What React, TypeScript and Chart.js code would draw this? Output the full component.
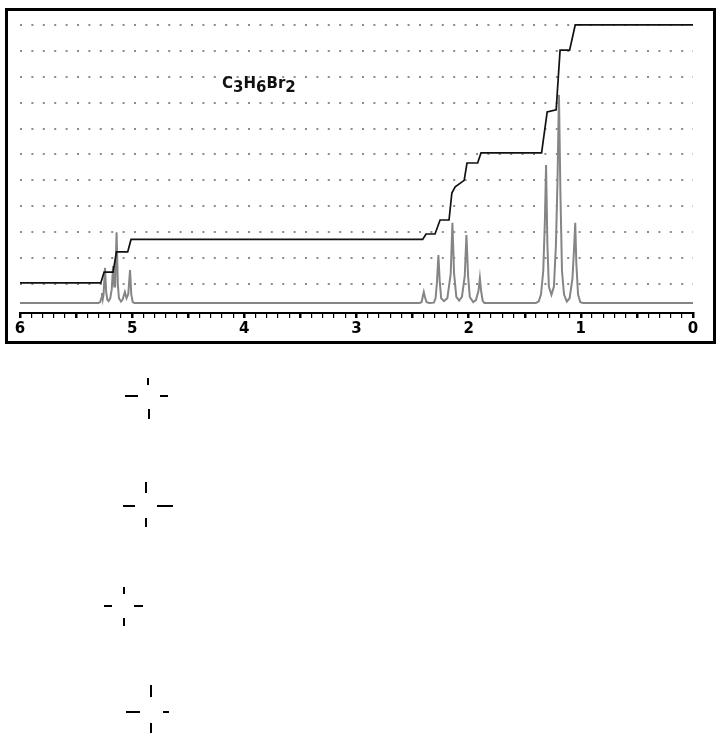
import React, { useEffect, useRef } from 'react';
import { Chart, registerables } from 'chart.js';

Chart.register(...registerables);

// chemical shift (ppm) of the spectrum trace and its intensity (grid units)
const spectrumPpm = [
  6.0, 5.3, 5.285, 5.275, 5.269, 5.262, 5.255, 5.242, 5.232, 5.222, 5.21, 5.195, 5.182, 5.17, 5.16, 5.152, 5.139, 5.128, 5.118,
  5.1, 5.085, 5.065, 5.05, 5.035, 5.019, 5.008, 4.995, 4.98,
  2.44, 2.42, 2.41, 2.4, 2.39, 2.375, 2.35, 2.31, 2.295, 2.282, 2.27, 2.258, 2.245, 2.22, 2.19, 2.16, 2.145, 2.13, 2.11, 2.085,
  2.06, 2.035, 2.02, 2.005, 1.99, 1.96, 1.935, 1.912, 1.9, 1.888, 1.875, 1.86,
  1.4, 1.375, 1.355, 1.335, 1.32, 1.31, 1.298, 1.285, 1.262, 1.24, 1.222, 1.208, 1.195, 1.182, 1.168, 1.15, 1.125, 1.1, 1.075,
  1.06, 1.05, 1.04, 1.025, 1.005, 0.98, 0.0,
];
const spectrumInt = [
  0.27, 0.27, 0.3, 0.45, 0.65, 0.42, 0.6, 1.62, 0.7, 0.4, 0.34, 0.45, 0.8, 1.69, 0.9, 0.9, 3.0, 1.0, 0.45,
  0.32, 0.4, 0.69, 0.45, 0.6, 1.54, 0.6, 0.3, 0.27,
  0.27, 0.3, 0.5, 0.69, 0.5, 0.3, 0.27, 0.28, 0.45, 1.1, 2.12, 1.1, 0.45, 0.34, 0.45, 1.4, 3.36, 1.4, 0.5, 0.36,
  0.5, 1.3, 2.89, 1.3, 0.5, 0.3, 0.38, 0.75, 1.23, 0.7, 0.35, 0.27,
  0.27, 0.33, 0.6, 1.5, 3.5, 5.59, 2.5, 0.9, 0.58, 0.9, 2.5, 5.0, 8.3, 4.5, 1.5, 0.6, 0.32, 0.45, 1.2,
  2.4, 3.36, 1.8, 0.6, 0.3, 0.27, 0.27,
];

// integral trace
const integralPpm = [
  6.0, 5.28, 5.25, 5.17, 5.14, 5.04, 5.01, 2.41, 2.38, 2.3, 2.255, 2.175, 2.15, 2.12, 2.04, 2.015, 1.92, 1.89, 1.35, 1.3, 1.22,
  1.185, 1.1, 1.05, 0.0,
];
const integralVal = [
  1.04, 1.04, 1.46, 1.46, 2.24, 2.24, 2.72, 2.72, 2.93, 2.93, 3.47, 3.47, 4.51, 4.75, 5.0, 5.67, 5.67, 6.06, 6.06, 7.64, 7.72,
  10.03, 10.03, 11.0, 11.0,
];

const xMin = 0;
const xMax = 6;
const xStep = 0.1;
const yMin = -0.12;
const yMax = 11.5;
const gridRows = [1, 2, 3, 4, 5, 6, 7, 8, 9, 10, 11];

// broken structure-formula fragments below the chart: [left, top, width, height]
const fragments: number[][] = [
  [147, 378, 2, 7], [125, 395, 13, 2], [160, 395, 8, 2], [148, 409, 2, 10],
  [145, 482, 2, 11], [123, 505, 12, 2], [157, 505, 16, 2], [145, 518, 2, 9],
  [123, 587, 2, 7], [104, 605, 8, 2], [134, 605, 9, 2], [123, 618, 2, 8],
  [150, 685, 2, 12], [126, 711, 14, 2], [163, 711, 6, 2], [150, 723, 2, 10],
];

const isInt = (v: number) => Math.abs(v - Math.round(v)) < 1e-6;

export default function App() {
  const canvasRef = useRef<HTMLCanvasElement | null>(null);

  useEffect(() => {
    document.body.style.margin = '0';
    document.body.style.overflow = 'hidden';
    const canvas = canvasRef.current;
    if (!canvas) return;
    const chart = new Chart(canvas, {
      type: 'line',
      data: {
        datasets: [
          {
            label: 'integral',
            data: integralPpm.map((x, i) => ({ x, y: integralVal[i] })),
            borderColor: '#111111',
            borderWidth: 1.7,
            pointRadius: 0,
            tension: 0,
          },
          {
            label: 'spectrum',
            data: spectrumPpm.map((x, i) => ({ x, y: spectrumInt[i] })),
            borderColor: '#858585',
            borderWidth: 2,
            pointRadius: 0,
            tension: 0,
          },
        ],
      },
      options: {
        animation: false,
        responsive: false,
        devicePixelRatio: 1,
        layout: { padding: { left: 20, right: 26, top: 12, bottom: 0 } },
        plugins: { legend: { display: false }, tooltip: { enabled: false } },
        scales: {
          x: {
            type: 'linear',
            reverse: true,
            min: xMin,
            max: xMax,
            afterFit: (s: any) => {
              s.height = 37;
            },
            ticks: {
              stepSize: xStep,
              autoSkip: false,
              maxRotation: 0,
              padding: 2,
              color: '#000',
              font: { family: 'DejaVu Sans', size: 15, weight: 'bold' },
              callback: (v: any) => (isInt(Number(v)) ? String(Math.round(Number(v))) : ''),
            },
            grid: {
              drawOnChartArea: false,
              drawTicks: true,
              tickLength: 5,
              color: '#000',
              lineWidth: (c: any) => {
                const v = c.tick ? c.tick.value : 0;
                return isInt(v * 2) ? 2.5 : 1.2;
              },
            },
            border: { display: true, color: '#000', width: 2 },
          },
          y: {
            type: 'linear',
            min: yMin,
            max: yMax,
            afterFit: (s: any) => {
              s.width = 0;
            },
            ticks: { display: false, stepSize: 1, includeBounds: false },
            grid: {
              drawTicks: false,
              lineWidth: 2,
              color: (c: any) => {
                const v = c.tick ? c.tick.value : 0;
                return gridRows.some((r) => Math.abs(r - v) < 1e-6) ? '#8c8c8c' : 'rgba(0,0,0,0)';
              },
            },
            border: { display: false, dash: [2, 9.4] },
          },
        },
      },
    } as any);
    return () => chart.destroy();
  }, []);

  const sub = { position: 'relative' as const, top: 4 };

  return (
    <div style={{ position: 'relative', width: 719, height: 733, background: '#fff' }}>
      <canvas ref={canvasRef} width={719} height={350} style={{ position: 'absolute', left: 0, top: 0 }} />
      <div
        style={{
          position: 'absolute',
          left: 5,
          top: 8,
          width: 705,
          height: 330,
          border: '3px solid #000',
          pointerEvents: 'none',
        }}
      />
      <div
        style={{
          position: 'absolute',
          left: 222,
          top: 75,
          font: 'bold 15px "DejaVu Sans"',
          color: '#111',
          whiteSpace: 'nowrap',
          lineHeight: '16px',
        }}
      >
        C<span style={sub}>3</span>H<span style={sub}>6</span>Br<span style={sub}>2</span>
      </div>
      {fragments.map((f, i) => (
        <div
          key={i}
          style={{ position: 'absolute', left: f[0], top: f[1], width: f[2], height: f[3], background: '#000' }}
        />
      ))}
    </div>
  );
}
